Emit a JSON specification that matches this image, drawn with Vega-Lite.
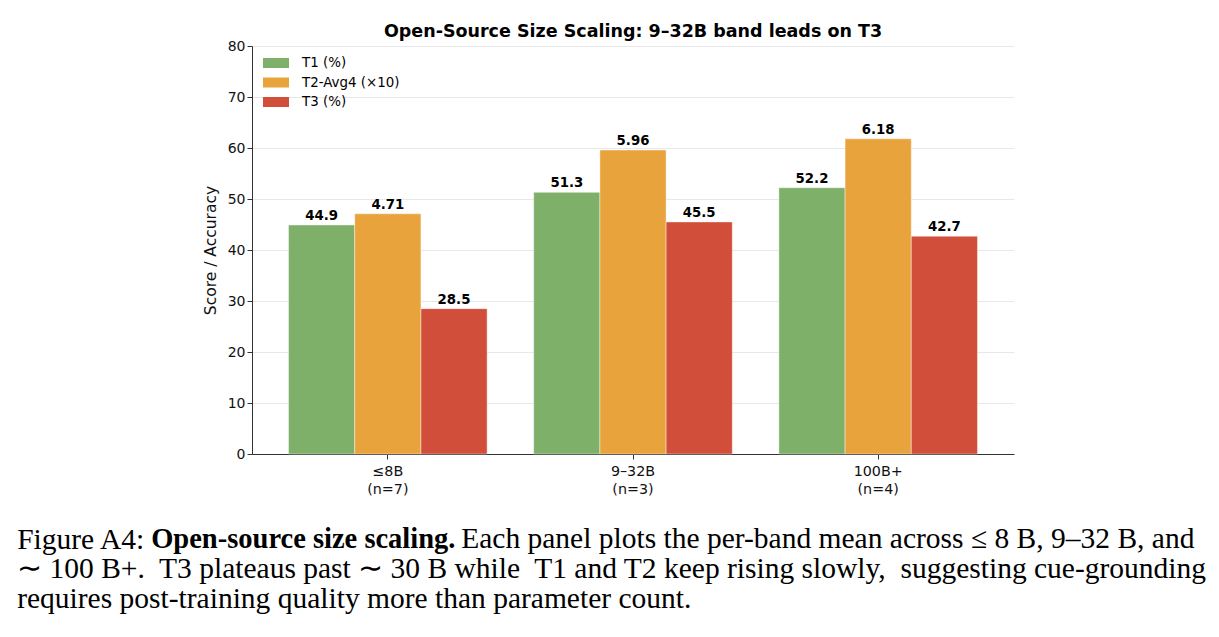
{
  "$schema": "https://vega.github.io/schema/vega-lite/v6.json",
  "background": "white",
  "padding": {"left": 17, "top": 22, "right": 5, "bottom": 10},
  "config": {
    "view": {"stroke": null},
    "font": "DejaVu Sans",
    "axis": {"domainColor": "#333333", "tickColor": "#333333", "labelColor": "#111111", "titleColor": "#111111"},
    "title": {"font": "Liberation Serif", "fontSize": 29.5, "fontWeight": "normal", "color": "#000000", "anchor": "start", "orient": "bottom"}
  },
  "title": {
    "text": [
      "∼ 100 B+.\u00a0 T3 plateaus past ∼ 30 B while\u00a0 T1 and T2 keep rising slowly,\u00a0 suggesting cue-grounding",
      "requires post-training quality more than parameter count."
    ],
    "offset": 0.5,
    "lineHeight": 30.5
  },
  "vconcat": [
    {
      "title": {"text": "Each panel plots the per-band mean across ≤ 8 B, 9–32 B, and", "dx": 444, "offset": -29},
      "vconcat": [
        {
          "title": {"text": "Open-source size scaling.", "dx": 134, "offset": -29, "fontSize": 28.5, "fontWeight": "bold"},
          "vconcat": [
            {
              "title": {"text": "Figure A4:", "dx": -186, "offset": 29.5},
              "vconcat": [
                {
                  "width": 762,
                  "height": 408,
                  "title": {
                    "text": "Open-Source Size Scaling: 9–32B band leads on T3",
                    "orient": "top",
                    "anchor": "middle",
                    "font": "DejaVu Sans",
                    "fontSize": 17.5,
                    "fontWeight": "bold",
                    "offset": -1,
                    "color": "#000000"
                  },
                  "data": {
                    "values": [
                      {"band": "≤8B (n=7)", "series": "T1 (%)", "score": 44.9, "label": "44.9"},
                      {"band": "≤8B (n=7)", "series": "T2-Avg4 (×10)", "score": 47.1, "label": "4.71"},
                      {"band": "≤8B (n=7)", "series": "T3 (%)", "score": 28.5, "label": "28.5"},
                      {"band": "9–32B (n=3)", "series": "T1 (%)", "score": 51.3, "label": "51.3"},
                      {"band": "9–32B (n=3)", "series": "T2-Avg4 (×10)", "score": 59.6, "label": "5.96"},
                      {"band": "9–32B (n=3)", "series": "T3 (%)", "score": 45.5, "label": "45.5"},
                      {"band": "100B+ (n=4)", "series": "T1 (%)", "score": 52.2, "label": "52.2"},
                      {"band": "100B+ (n=4)", "series": "T2-Avg4 (×10)", "score": 61.8, "label": "6.18"},
                      {"band": "100B+ (n=4)", "series": "T3 (%)", "score": 42.7, "label": "42.7"}
                    ]
                  },
                  "encoding": {
                    "x": {
                      "field": "band",
                      "type": "nominal",
                      "sort": null,
                      "scale": {"paddingInner": 0.19, "paddingOuter": 0.149},
                      "axis": {
                        "title": null,
                        "labelAngle": 0,
                        "labelFontSize": 14.3,
                        "labelLineHeight": 18,
                        "labelPadding": 5,
                        "tickSize": 5,
                        "labelExpr": "split(datum.label, ' ')"
                      }
                    },
                    "xOffset": {
                      "field": "series",
                      "type": "nominal",
                      "sort": ["T1 (%)", "T2-Avg4 (×10)", "T3 (%)"],
                      "scale": {"paddingInner": 0, "paddingOuter": 0}
                    },
                    "y": {
                      "field": "score",
                      "type": "quantitative",
                      "scale": {"domain": [0, 80], "nice": false},
                      "axis": {
                        "title": "Score / Accuracy",
                        "titleFontSize": 15.5,
                        "titleFontWeight": "normal",
                        "titlePadding": 9,
                        "values": [0, 10, 20, 30, 40, 50, 60, 70, 80],
                        "labelFontSize": 14,
                        "tickSize": 5,
                        "gridColor": "#e8e8e8",
                        "gridWidth": 1
                      }
                    }
                  },
                  "layer": [
                    {
                      "mark": {"type": "bar", "stroke": "#ffffff", "strokeWidth": 0.6, "strokeOpacity": 0.7},
                      "encoding": {
                        "color": {
                          "field": "series",
                          "type": "nominal",
                          "scale": {
                            "domain": ["T1 (%)", "T2-Avg4 (×10)", "T3 (%)"],
                            "range": ["#7fb06a", "#e8a33d", "#d14f3a"]
                          },
                          "legend": {
                            "title": null,
                            "orient": "none",
                            "legendX": 14,
                            "legendY": 7,
                            "symbolType": "M-1.3,-0.5H1.3V0.5H-1.3Z",
                            "symbolSize": 400,
                            "symbolStrokeWidth": 0,
                            "labelFontSize": 13.4,
                            "labelOffset": 16,
                            "rowPadding": 2.5
                          }
                        }
                      }
                    },
                    {
                      "mark": {"type": "text", "baseline": "alphabetic", "dy": -5, "fontSize": 13.3, "fontWeight": "bold", "color": "#000000"},
                      "encoding": {"text": {"field": "label"}}
                    }
                  ]
                }
              ]
            }
          ]
        }
      ]
    }
  ]
}
